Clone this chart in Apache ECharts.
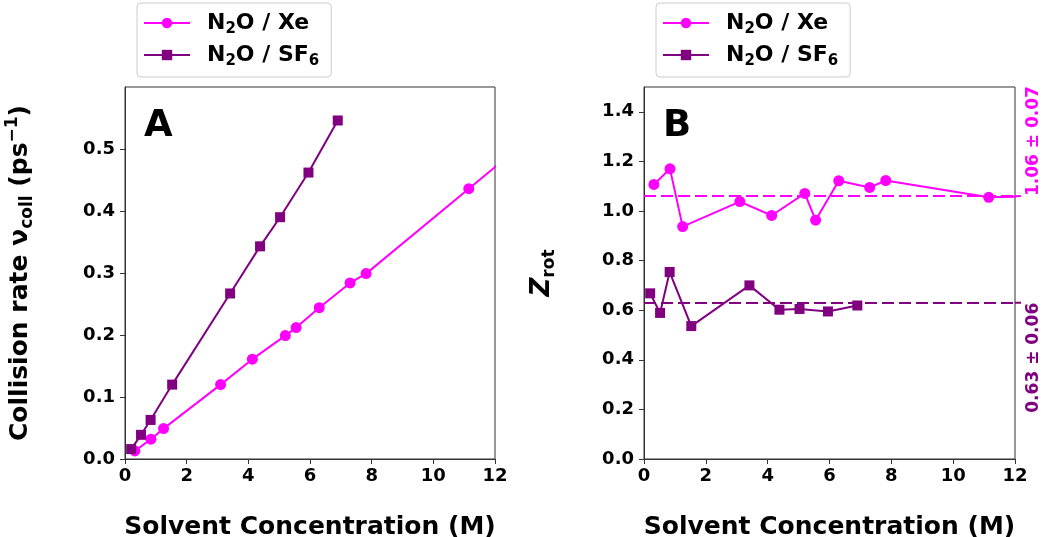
<!DOCTYPE html>
<html>
<head>
<meta charset="utf-8">
<script src="https://cdn.jsdelivr.net/npm/echarts@6/dist/echarts.min.js"></script>
<style>
  html, body { margin: 0; padding: 0; background: #fff; }
  #chart { width: 1042px; height: 537px; }
</style>
</head>
<body>
<div id="chart"></div>
<script>
// concentrations (M); last Xe point sits past the axis end and is clipped
const xeConc  = [0.32, 0.84, 1.25, 3.10, 4.13, 5.20, 5.55, 6.30, 7.30, 7.82, 11.15, 13.0];
const sf6Conc = [0.20, 0.52, 0.83, 1.53, 3.41, 4.38, 5.03, 5.95, 6.90];

// panel A: collision rate (ps^-1)
const xeRate  = [0.013, 0.032, 0.049, 0.120, 0.161, 0.199, 0.212, 0.244, 0.284, 0.299, 0.436, 0.512];
const sf6Rate = [0.016, 0.039, 0.063, 0.120, 0.267, 0.343, 0.390, 0.462, 0.546];

// panel B: Z_rot
const xeZ  = [1.107, 1.170, 0.937, 1.038, 0.982, 1.071, 0.963, 1.122, 1.095, 1.123, 1.055, 1.06];
const sf6Z = [0.668, 0.589, 0.754, 0.536, 0.700, 0.602, 0.605, 0.595, 0.619];

const xeMeanZ = 1.06, sf6MeanZ = 0.63;
const xeMeanLabel = '1.06 ± 0.07', sf6MeanLabel = '0.63 ± 0.06';

const xeName = 'N₂O / Xe';
const sf6Name = 'N₂O / SF₆';
// legend text with real subscripts via rich text
const legendText = {};
legendText[xeName] = 'N{s|2}O / Xe';
legendText[sf6Name] = 'N{s|2}O / SF{s|6}';

const MAGENTA = '#ff00ff';
const PURPLE = '#800080';
const FONT = '"DejaVu Sans", sans-serif';

const pairs = (xs, ys) => xs.map((x, i) => [x, ys[i]]);

const chart = echarts.init(document.getElementById('chart'), null, { renderer: 'canvas' });

function xAxisFor(gridIndex) {
  return {
    type: 'value', gridIndex: gridIndex, min: 0, max: 12, interval: 2,
    name: 'Solvent Concentration (M)', nameLocation: 'middle', nameGap: 56,
    nameTextStyle: { fontFamily: FONT, fontWeight: 'bold', fontSize: 25, color: '#000' },
    axisLine: { show: true, lineStyle: { color: '#333', width: 1 } },
    axisTick: { show: true, length: 5, lineStyle: { color: '#333' } },
    axisLabel: { fontFamily: FONT, fontWeight: 'bold', fontSize: 18, color: '#000', margin: 8 },
    splitLine: { show: false }
  };
}

function legendAt(left) {
  return {
    left: left, top: 3, orient: 'vertical',
    data: [xeName, sf6Name],
    itemWidth: 46, itemHeight: 13, itemGap: 4,
    formatter: name => legendText[name],
    textStyle: {
      fontFamily: FONT, fontWeight: 'bold', fontSize: 22, color: '#000', lineHeight: 28,
      padding: [0, 0, 0, 12],
      rich: {
        s: { fontFamily: FONT, fontWeight: 'bold', fontSize: 15, color: '#000', lineHeight: 15, verticalAlign: 'bottom' }
      }
    },
    backgroundColor: '#fff', borderColor: '#ccc', borderWidth: 1, borderRadius: 4,
    padding: [6, 12, 8, 6]
  };
}

const dashed = (value, color) => ({
  silent: true, symbol: 'none', animation: false,
  label: { show: false },
  lineStyle: { type: [12, 5], width: 2, color: color },
  data: [{ yAxis: value }]
});

const option = {
  animation: false,
  textStyle: { fontFamily: FONT },
  legend: [legendAt(137), legendAt(656)],
  grid: [
    { left: 125, right: 547, top: 87, bottom: 78, show: true, borderColor: '#333', borderWidth: 1, outerBoundsMode: 'none' },
    { left: 644, right: 27, top: 87, bottom: 78, show: true, borderColor: '#333', borderWidth: 1, outerBoundsMode: 'none' }
  ],
  xAxis: [xAxisFor(0), xAxisFor(1)],
  yAxis: [
    {
      type: 'value', gridIndex: 0, min: 0, max: 0.6, interval: 0.1,
      name: '{b|Collision rate }{b|ν}{sub|coll}{b| (ps}{sup|−1}{b|)}',
      nameLocation: 'middle', nameGap: 89,
      nameTextStyle: {
        rich: {
          b: { fontFamily: FONT, fontWeight: 'bold', fontSize: 25, color: '#000', lineHeight: 32, verticalAlign: 'middle' },
          sub: { fontFamily: FONT, fontWeight: 'bold', fontSize: 17, color: '#000', lineHeight: 16, verticalAlign: 'bottom' },
          sup: { fontFamily: FONT, fontWeight: 'bold', fontSize: 17, color: '#000', lineHeight: 16, verticalAlign: 'top' }
        }
      },
      axisLine: { show: true, lineStyle: { color: '#333', width: 1 } },
      axisTick: { show: true, length: 5, lineStyle: { color: '#333' } },
      axisLabel: {
        fontFamily: FONT, fontWeight: 'bold', fontSize: 18, color: '#000', margin: 10,
        showMaxLabel: false, formatter: v => v.toFixed(1)
      },
      splitLine: { show: false }
    },
    {
      type: 'value', gridIndex: 1, min: 0, max: 1.5, interval: 0.2,
      name: '{z|Z}{sub|rot}',
      nameLocation: 'middle', nameGap: 86,
      nameTextStyle: {
        rich: {
          z: { fontFamily: FONT, fontWeight: 'bold', fontStyle: 'italic', fontSize: 26, color: '#000', lineHeight: 32, verticalAlign: 'middle' },
          sub: { fontFamily: FONT, fontWeight: 'bold', fontSize: 17, color: '#000', lineHeight: 17, verticalAlign: 'bottom' }
        }
      },
      axisLine: { show: true, lineStyle: { color: '#333', width: 1 } },
      axisTick: { show: true, length: 5, lineStyle: { color: '#333' } },
      axisLabel: {
        fontFamily: FONT, fontWeight: 'bold', fontSize: 18, color: '#000', margin: 10,
        showMaxLabel: false, formatter: v => v.toFixed(1)
      },
      splitLine: { show: false }
    }
  ],
  series: [
    {
      name: xeName, type: 'line', xAxisIndex: 0, yAxisIndex: 0,
      data: pairs(xeConc, xeRate),
      symbol: 'circle', symbolSize: 11,
      lineStyle: { color: MAGENTA, width: 2 }, itemStyle: { color: MAGENTA }
    },
    {
      name: sf6Name, type: 'line', xAxisIndex: 0, yAxisIndex: 0,
      data: pairs(sf6Conc, sf6Rate),
      symbol: 'rect', symbolSize: 10,
      lineStyle: { color: PURPLE, width: 2 }, itemStyle: { color: PURPLE }
    },
    {
      name: xeName, type: 'line', xAxisIndex: 1, yAxisIndex: 1,
      data: pairs(xeConc, xeZ),
      symbol: 'circle', symbolSize: 11,
      lineStyle: { color: MAGENTA, width: 2 }, itemStyle: { color: MAGENTA },
      markLine: dashed(xeMeanZ, MAGENTA)
    },
    {
      name: sf6Name, type: 'line', xAxisIndex: 1, yAxisIndex: 1,
      data: pairs(sf6Conc, sf6Z),
      symbol: 'rect', symbolSize: 10,
      lineStyle: { color: PURPLE, width: 2 }, itemStyle: { color: PURPLE },
      markLine: dashed(sf6MeanZ, PURPLE)
    }
  ]
};

chart.setOption(option);

// panel letters and the mean labels on the right spine of panel B
const [edgeX, yXe] = chart.convertToPixel({ gridIndex: 1 }, [12, xeMeanZ]);
const [, ySf6] = chart.convertToPixel({ gridIndex: 1 }, [12, sf6MeanZ]);
const labelFont = 'bold 17px ' + FONT;

chart.setOption({
  graphic: [
    { type: 'text', left: 144, top: 108, style: { text: 'A', font: 'bold 37px ' + FONT, fill: '#000' } },
    { type: 'text', left: 663, top: 108, style: { text: 'B', font: 'bold 37px ' + FONT, fill: '#000' } },
    { type: 'line', shape: { x1: edgeX, y1: yXe, x2: edgeX + 6, y2: yXe }, style: { stroke: MAGENTA, lineWidth: 2 } },
    { type: 'line', shape: { x1: edgeX, y1: ySf6, x2: edgeX + 6, y2: ySf6 }, style: { stroke: PURPLE, lineWidth: 2 } },
    {
      type: 'text', x: edgeX + 19, y: yXe, rotation: Math.PI / 2,
      style: { text: xeMeanLabel, font: labelFont, fill: MAGENTA, align: 'left', verticalAlign: 'middle', textAlign: 'left', textVerticalAlign: 'middle' }
    },
    {
      type: 'text', x: edgeX + 19, y: ySf6, rotation: Math.PI / 2,
      style: { text: sf6MeanLabel, font: labelFont, fill: PURPLE, align: 'right', verticalAlign: 'middle', textAlign: 'right', textVerticalAlign: 'middle' }
    }
  ]
});
</script>
</body>
</html>
